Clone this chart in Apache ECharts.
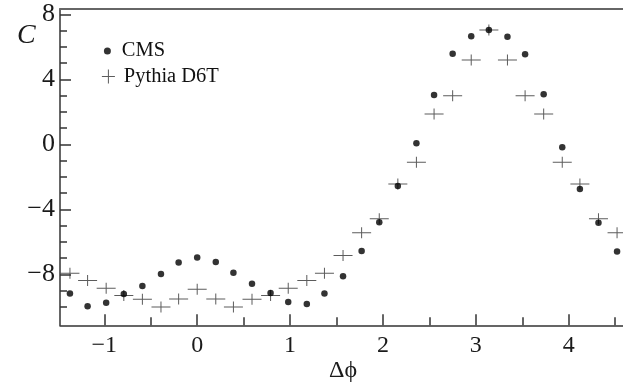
<!DOCTYPE html>
<html>
<head>
<meta charset="utf-8">
<script src="https://cdn.jsdelivr.net/npm/echarts@6/dist/echarts.min.js"></script>
<style>
  html, body { margin: 0; padding: 0; background: #fff; }
  #chart { width: 623px; height: 390px; }
</style>
</head>
<body>
<div id="chart"></div>
<script>
    // bin centres in delta phi
    var dphi = [-1.37, -1.18, -0.98, -0.79, -0.59, -0.39, -0.20, 0.00, 0.20, 0.39, 0.59, 0.79, 0.98, 1.18, 1.37, 1.57,
        1.77, 1.96, 2.16, 2.36, 2.55, 2.75, 2.95, 3.14, 3.34, 3.53, 3.73, 3.93, 4.12, 4.32, 4.52]

    var cms = [-9.19, -9.97, -9.75, -9.21, -8.72, -7.98, -7.28, -6.96, -7.24, -7.90, -8.58, -9.15, -9.70, -9.83, -9.19, -8.12,
        -6.57, -4.80, -2.57, 0.06, 3.03, 5.58, 6.66, 7.03, 6.62, 5.54, 3.08, -0.18, -2.75, -4.82, -6.59]

    var pythia = [-7.94, -8.39, -8.86, -9.31, -9.54, -10.01, -9.52, -8.92, -9.52, -10.01, -9.54, -9.31, -8.86, -8.39, -7.94, -6.85,
        -5.44, -4.58, -2.44, -1.11, 1.86, 2.99, 5.19, 7.03, 5.19, 2.99, 1.86, -1.11, -2.44, -4.58, -5.44]

    var xMajor = [-1, 0, 1, 2, 3, 4]
    var xMinor = [-0.5, 0.5, 1.5, 2.5, 3.5, 4.5]
    var yMajor = [-8, -4, 0, 4, 8]
    var yMinor = [-10, -9, -8, -7, -6, -5, -4, -3, -2, -1, 0, 1, 2, 3, 4, 5, 6, 7, 8]

    var serif = 'Liberation Serif'
    var xMin = -1.477, xMax = 4.584
    var yMin = -11.14, yMax = 8.33

    function minus(v) {
        return v < 0 ? '\u2212' + Math.abs(v) : String(v)
    }

    function pairs(xs, ys) {
        return xs.map(function (x, i) { return [x, ys[i]] })
    }

    var chart = echarts.init(document.getElementById('chart'))

    chart.setOption({
        animation: false,
        grid: {
            left: 60,
            right: 0,
            top: 9,
            bottom: 64.7
        },
        legend: [
            {
                data: [{name: 'CMS', icon: 'circle'}],
                left: 98.9,
                top: 35.5,
                itemWidth: 18.8,
                itemHeight: 7,
                textStyle: {fontFamily: serif, fontSize: 20.5, color: '#111'}
            },
            {
                data: [{name: 'Pythia D6T', icon: 'path://M0,6.5H13V7.5H0Z M6,0H7V14H6Z'}],
                left: 96.9,
                top: 61,
                itemWidth: 20.8,
                itemHeight: 14,
                textStyle: {fontFamily: serif, fontSize: 20.5, color: '#111'}
            }
        ],
        xAxis: [
            {
                type: 'value',
                position: 'bottom',
                min: xMin,
                max: xMax,
                splitLine: {show: false},
                axisLine: {onZero: false, lineStyle: {color: '#333', width: 1.5}},
                axisTick: {show: true, inside: true, length: 11, customValues: xMajor, lineStyle: {color: '#333', width: 1.5}},
                axisLabel: {customValues: xMajor, formatter: minus, fontFamily: serif, fontSize: 24, color: '#1a1a1a', margin: 8}
            },
            {
                type: 'value',
                position: 'bottom',
                min: xMin,
                max: xMax,
                splitLine: {show: false},
                axisLine: {show: false, onZero: false},
                axisTick: {show: true, inside: true, length: 8, customValues: xMinor, lineStyle: {color: '#333', width: 1.5}},
                axisLabel: {show: false}
            },
            {
                type: 'value',
                position: 'top',
                min: xMin,
                max: xMax,
                splitLine: {show: false},
                axisLine: {onZero: false, lineStyle: {color: '#666', width: 2}},
                axisTick: {show: false},
                axisLabel: {show: false}
            }
        ],
        yAxis: [
            {
                type: 'value',
                position: 'left',
                min: yMin,
                max: yMax,
                splitLine: {show: false},
                axisLine: {onZero: false, lineStyle: {color: '#333', width: 1.5}},
                axisTick: {show: true, inside: true, length: 11, customValues: yMajor, lineStyle: {color: '#333', width: 1.5}},
                axisLabel: {customValues: yMajor, formatter: minus, fontFamily: serif, fontSize: 26, color: '#1a1a1a', margin: 5}
            },
            {
                type: 'value',
                position: 'left',
                min: yMin,
                max: yMax,
                splitLine: {show: false},
                axisLine: {show: false, onZero: false},
                axisTick: {show: true, inside: true, length: 7, customValues: yMinor, lineStyle: {color: '#333', width: 1.5}},
                axisLabel: {show: false}
            }
        ],
        graphic: [
            {
                type: 'text',
                left: 17,
                top: 22,
                style: {text: 'C', font: 'italic 28px "Liberation Serif"', fill: '#1a1a1a'}
            },
            {
                type: 'text',
                left: 329,
                top: 359,
                style: {text: 'Δϕ', font: '24px "Liberation Serif"', fill: '#1a1a1a'}
            }
        ],
        series: [
            {
                name: 'Pythia D6T',
                type: 'scatter',
                xAxisIndex: 0,
                yAxisIndex: 0,
                symbol: 'path://M0,5H19V6H0Z M9,0H10V11H9Z',
                symbolSize: [19, 11],
                itemStyle: {color: '#333'},
                data: pairs(dphi, pythia)
            },
            {
                name: 'CMS',
                type: 'scatter',
                xAxisIndex: 0,
                yAxisIndex: 0,
                symbol: 'circle',
                symbolSize: 6.5,
                itemStyle: {color: '#000'},
                data: pairs(dphi, cms)
            }
        ]
    })
</script>
</body>
</html>
